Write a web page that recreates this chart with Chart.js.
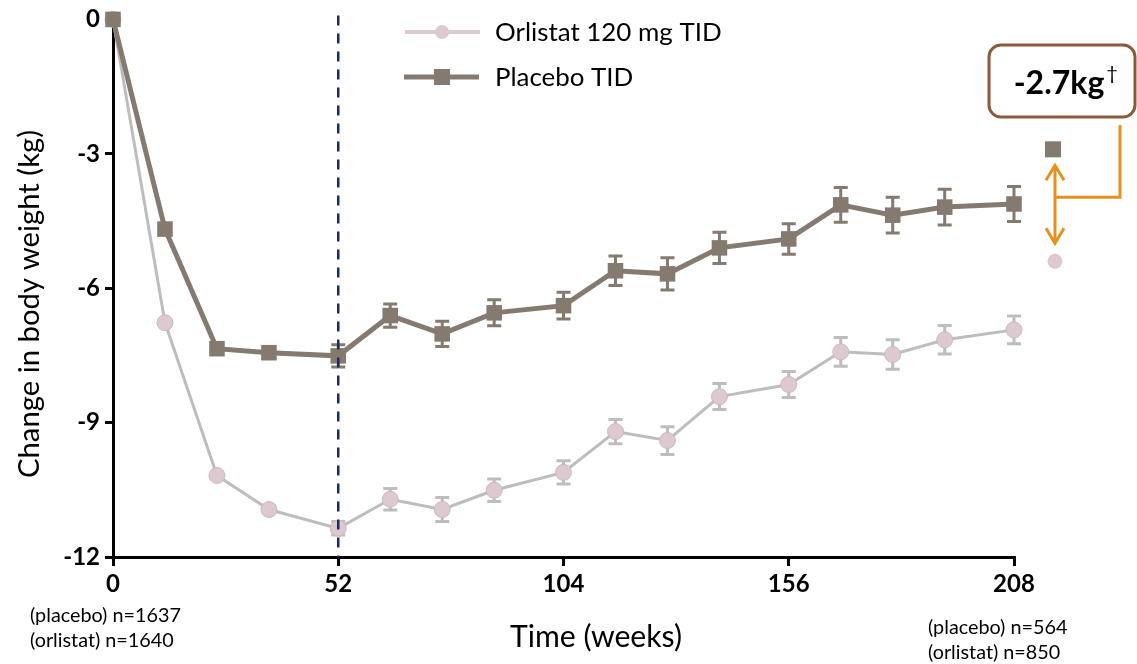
<!DOCTYPE html>
<html>
<head>
<meta charset="utf-8">
<script src="https://cdn.jsdelivr.net/npm/chart.js@4.4.1/dist/chart.umd.min.js"></script>
<style>
  html, body { margin: 0; padding: 0; background: #fff; }
  #chart-wrapper { width: 1137px; height: 664px; position: relative; }
</style>
</head>
<body>
<div id="chart-wrapper"><canvas id="weight-chart"></canvas></div>
<script>
// data
const WEEKS = [0, 12, 24, 36, 52, 64, 76, 88, 104, 116, 128, 140, 156, 168, 180, 192, 208];
const PLACEBO = [0, -4.68, -7.35, -7.44, -7.51, -6.61, -7.02, -6.55, -6.39, -5.61, -5.68, -5.10, -4.90, -4.14, -4.37, -4.19, -4.12];
const PLACEBO_ERR = [0, 0, 0, 0, 0.25, 0.26, 0.28, 0.29, 0.30, 0.33, 0.36, 0.35, 0.34, 0.39, 0.40, 0.40, 0.39];
const ORLISTAT = [0, -6.77, -10.18, -10.94, -11.36, -10.71, -10.94, -10.51, -10.11, -9.20, -9.40, -8.42, -8.15, -7.42, -7.48, -7.15, -6.93];
const ORLISTAT_ERR = [0, 0, 0, 0, 0.15, 0.24, 0.27, 0.25, 0.26, 0.27, 0.31, 0.29, 0.29, 0.32, 0.33, 0.32, 0.31];
const X_TICKS = [0, 52, 104, 156, 208];
const Y_TICKS = [0, -3, -6, -9, -12];
const LANDMARK_WEEK = 52;

// end-of-study comparison markers shown right of the axis
const END_WEEK = 217;
const END_PLACEBO = -2.9;
const END_ORLISTAT = -5.4;
const DIFF_LABEL = '-2.7kg';

const N_START = ['(placebo) n=1637', '(orlistat) n=1640'];
const N_END = ['(placebo) n=564', '(orlistat) n=850'];

const FONT = 'Lato, "Open Sans", sans-serif';
const PLACEBO_COLOR = '#857a70';
const ORLISTAT_LINE = '#bdbdbd';
const ORLISTAT_FILL = '#ddc9d1';
const ORANGE = '#e8901e';

function pairs(xs, ys) {
  return xs.map((x, i) => ({ x, y: ys[i] }));
}

// pick a font size so the text spans roughly the given width
function fitFont(ctx, text, width, weight = '') {
  ctx.font = `${weight} 20px ${FONT}`;
  const size = 20 * width / ctx.measureText(text).width;
  ctx.font = `${weight} ${size.toFixed(1)}px ${FONT}`;
}

const errorBars = {
  id: 'errorBars',
  beforeDatasetsDraw(chart) {
    const { ctx } = chart;
    const yScale = chart.scales.y;
    const sets = [
      { idx: 0, err: PLACEBO_ERR, vals: PLACEBO, color: PLACEBO_COLOR },
      { idx: 1, err: ORLISTAT_ERR, vals: ORLISTAT, color: ORLISTAT_LINE },
    ];
    ctx.save();
    for (const s of sets) {
      const meta = chart.getDatasetMeta(s.idx);
      ctx.strokeStyle = s.color;
      ctx.lineWidth = 3;
      s.err.forEach((e, i) => {
        if (!e) return;
        const x = meta.data[i].x;
        const top = yScale.getPixelForValue(s.vals[i] + e);
        const bot = yScale.getPixelForValue(s.vals[i] - e);
        ctx.beginPath();
        ctx.moveTo(x, top); ctx.lineTo(x, bot);
        ctx.moveTo(x - 7, top); ctx.lineTo(x + 7, top);
        ctx.moveTo(x - 7, bot); ctx.lineTo(x + 7, bot);
        ctx.stroke();
      });
    }
    ctx.restore();
  },
};

const decorations = {
  id: 'decorations',
  afterDraw(chart) {
    const { ctx, chartArea } = chart;
    const xs = chart.scales.x;
    const ys = chart.scales.y;
    ctx.save();

    // week 52 dashed line
    const lx = xs.getPixelForValue(LANDMARK_WEEK);
    ctx.strokeStyle = '#1b2a6b';
    ctx.lineWidth = 2.5;
    ctx.setLineDash([10, 8]);
    ctx.beginPath();
    ctx.moveTo(lx, chartArea.top - 4);
    ctx.lineTo(lx, chartArea.bottom);
    ctx.stroke();
    ctx.setLineDash([]);

    // legend
    ctx.lineWidth = 4;
    ctx.strokeStyle = ORLISTAT_FILL;
    ctx.beginPath(); ctx.moveTo(405, 32); ctx.lineTo(480, 32); ctx.stroke();
    ctx.fillStyle = ORLISTAT_FILL;
    ctx.beginPath(); ctx.arc(442, 32, 7, 0, Math.PI * 2); ctx.fill();
    ctx.lineWidth = 5;
    ctx.strokeStyle = PLACEBO_COLOR;
    ctx.beginPath(); ctx.moveTo(404, 77); ctx.lineTo(479, 77); ctx.stroke();
    ctx.fillStyle = PLACEBO_COLOR;
    ctx.fillRect(434, 69, 16, 16);
    ctx.fillStyle = '#000';
    ctx.textBaseline = 'middle';
    ctx.textAlign = 'left';
    fitFont(ctx, 'Orlistat 120 mg TID', 227);
    ctx.fillText('Orlistat 120 mg TID', 495, 33);
    ctx.fillText('Placebo TID', 495, 78);

    // end markers
    const ex = xs.getPixelForValue(END_WEEK);
    const epy = ys.getPixelForValue(END_PLACEBO);
    const eoy = ys.getPixelForValue(END_ORLISTAT);
    ctx.fillStyle = PLACEBO_COLOR;
    ctx.fillRect(ex - 8, epy - 8, 16, 16);
    ctx.fillStyle = ORLISTAT_FILL;
    ctx.beginPath(); ctx.arc(ex + 2, eoy, 7.5, 0, Math.PI * 2); ctx.fill();

    // double arrow + bracket
    const ax = ex + 2;
    const aTop = epy + 16;
    const aBot = eoy - 18;
    ctx.strokeStyle = ORANGE;
    ctx.lineWidth = 3;
    ctx.beginPath();
    ctx.moveTo(ax, aTop); ctx.lineTo(ax, aBot);
    ctx.moveTo(ax - 9, aTop + 15); ctx.lineTo(ax, aTop); ctx.lineTo(ax + 9, aTop + 15);
    ctx.moveTo(ax - 9, aBot - 15); ctx.lineTo(ax, aBot); ctx.lineTo(ax + 9, aBot - 15);
    const midY = (aTop + aBot) / 2 - 7;
    ctx.moveTo(ax, midY); ctx.lineTo(1120, midY); ctx.lineTo(1120, 125);
    ctx.stroke();

    // label box
    ctx.strokeStyle = '#8b5a3c';
    ctx.lineWidth = 3;
    ctx.beginPath();
    ctx.roundRect(989, 45, 146, 72, 12);
    ctx.stroke();
    ctx.fillStyle = '#000';
    ctx.font = `bold 32px ${FONT}`;
    ctx.textAlign = 'left';
    ctx.textBaseline = 'alphabetic';
    const w = ctx.measureText(DIFF_LABEL).width;
    ctx.fillText(DIFF_LABEL, 1059 - w / 2, 94);
    ctx.font = `20px ${FONT}`;
    ctx.fillText('\u2020', 1059 + w / 2 + 2, 80);

    // axis titles
    ctx.textAlign = 'center';
    ctx.textBaseline = 'middle';
    fitFont(ctx, 'Time (weeks)', 172);
    ctx.fillText('Time (weeks)', 596, 637);
    ctx.save();
    ctx.translate(30, 304);
    ctx.rotate(-Math.PI / 2);
    fitFont(ctx, 'Change in body weight (kg)', 348);
    ctx.fillText('Change in body weight (kg)', 0, 0);
    ctx.restore();

    // sample sizes
    ctx.textAlign = 'left';
    fitFont(ctx, N_START[0], 151);
    ctx.fillText(N_START[0], 30, 616);
    ctx.fillText(N_START[1], 30, 641);
    ctx.fillText(N_END[0], 928, 628);
    ctx.fillText(N_END[1], 928, 653);

    ctx.restore();
  },
};

const tickFont = { family: FONT, size: 24, weight: 'bold' };

new Chart(document.getElementById('weight-chart').getContext('2d'), {
  type: 'line',
  data: {
    datasets: [
      {
        label: 'Placebo TID',
        data: pairs(WEEKS, PLACEBO),
        borderColor: PLACEBO_COLOR,
        borderWidth: 5,
        pointStyle: 'rect',
        pointRadius: 11,
        pointBackgroundColor: PLACEBO_COLOR,
        pointBorderWidth: 0,
        tension: 0,
        clip: false,
      },
      {
        label: 'Orlistat 120 mg TID',
        data: pairs(WEEKS, ORLISTAT),
        borderColor: ORLISTAT_LINE,
        borderWidth: 3,
        pointStyle: 'circle',
        pointRadius: 8,
        pointBackgroundColor: ORLISTAT_FILL,
        pointBorderColor: '#cdb8c0',
        pointBorderWidth: 1,
        tension: 0,
        clip: false,
      },
    ],
  },
  options: {
    responsive: true,
    maintainAspectRatio: false,
    animation: false,
    layout: { padding: { top: 18, right: 123, left: 0, bottom: 0 } },
    scales: {
      x: {
        type: 'linear',
        min: 0,
        max: 208,
        afterBuildTicks: s => { s.ticks = X_TICKS.map(v => ({ value: v })); },
        afterFit: s => { s.height = 107; },
        ticks: { color: '#000', font: tickFont, padding: 4, maxRotation: 0, autoSkip: false },
        grid: { drawOnChartArea: false, drawTicks: true, tickLength: 9, color: '#000', lineWidth: 3 },
        border: { display: true, color: '#000', width: 3 },
      },
      y: {
        type: 'linear',
        min: -12,
        max: 0,
        afterBuildTicks: s => { s.ticks = Y_TICKS.map(v => ({ value: v })); },
        afterFit: s => { s.width = 113; },
        ticks: { color: '#000', font: tickFont, padding: 5, autoSkip: false },
        grid: { drawOnChartArea: false, drawTicks: true, tickLength: 8, color: '#000', lineWidth: 3 },
        border: { display: true, color: '#000', width: 3 },
      },
    },
    plugins: {
      legend: { display: false },
      tooltip: { enabled: false },
    },
  },
  plugins: [errorBars, decorations],
});
</script>
</body>
</html>
